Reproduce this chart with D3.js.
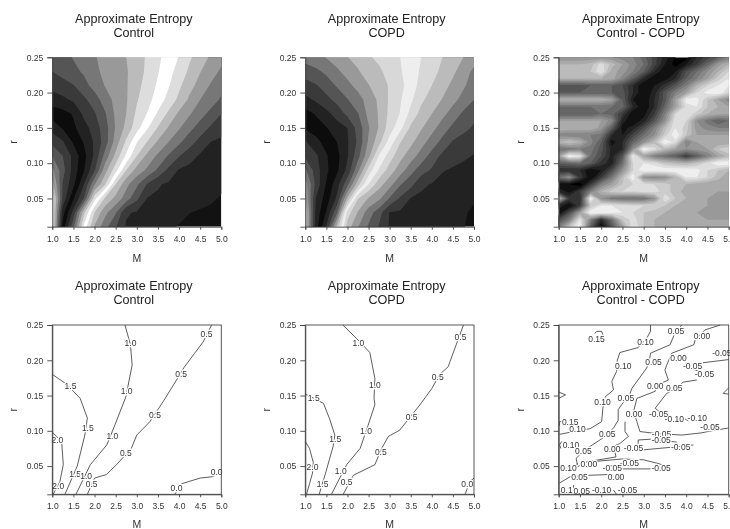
<!DOCTYPE html>
<html>
<head>
<meta charset="utf-8">
<script src="https://cdnjs.cloudflare.com/ajax/libs/d3/7.8.5/d3.min.js"></script>
<style>
  html, body { margin: 0; padding: 0; background: #fff; overflow: hidden; }
  svg { display: block; font-family: "Liberation Sans", Arial, sans-serif; filter: blur(0.5px); }
</style>
</head>
<body>
<svg id="chart" width="730" height="529"></svg>
<script>
// axis ticks
var mTicks = [1, 1.5, 2, 2.5, 3, 3.5, 4, 4.5, 5];
var rTicks = [0.05, 0.10, 0.15, 0.20, 0.25];

// surface grids
var mGrid = [1, 1.25, 1.5, 1.75, 2, 2.25, 2.5, 2.75, 3, 3.25, 3.5, 3.75, 4, 4.25, 4.5, 4.75, 5];
var rGridCoarse = [0.25, 0.23, 0.21, 0.19, 0.17, 0.15, 0.13, 0.11, 0.09, 0.07, 0.05, 0.03, 0.01];
var rGridFine = [0.25, 0.24, 0.23, 0.22, 0.21, 0.20, 0.19, 0.18, 0.17, 0.16, 0.15, 0.14, 0.13,
  0.12, 0.11, 0.10, 0.09, 0.08, 0.07, 0.06, 0.05, 0.04, 0.03, 0.02, 0.01];

var controlSurface = [
  [12.8, 12.35, 11.93, 11.5, 11.08, 10.7, 10.37, 10, 9.44, 8.86, 8.2, 7.58, 6.95, 6.15, 5.48, 4.85, 4.3],
  [13, 12.63, 12.27, 11.85, 11.24, 10.75, 10.45, 10.1, 9.47, 8.78, 8.07, 7.35, 6.6, 5.8, 5.05, 4.4, 3.85],
  [13.65, 13.4, 13.05, 12.35, 11.6, 10.95, 10.55, 10.1, 9.3, 8.6, 7.85, 7.1, 6.2, 5.35, 4.6, 3.9, 3.4],
  [14.5, 14.2, 13.85, 13.2, 12.5, 11.5, 10.7, 10.1, 9.1, 8.35, 7.55, 6.65, 5.75, 4.8, 4, 3.5, 2.85],
  [15.55, 15.35, 14.9, 13.75, 13.1, 12.1, 10.8, 10, 8.8, 7.95, 6.85, 5.8, 4.8, 4.1, 3.4, 2.7, 2],
  [16.6, 15.9, 15.2, 14.4, 13.55, 12.45, 10.9, 9.7, 8.4, 7.1, 5.9, 4.9, 4.1, 3.3, 2.55, 1.85, 1.3],
  [17.7, 17.1, 15.85, 14.9, 13.85, 12.5, 10.55, 8.8, 7.05, 5.95, 4.85, 4, 3.2, 2.4, 1.65, 1, 0.85],
  [19, 18, 16.7, 15.3, 13.8, 11.6, 9.7, 7.8, 6, 4.7, 3.8, 2.9, 2.05, 1.4, 0.85, 0.65, 0.5],
  [20.3, 18.35, 16.6, 15.05, 13.1, 10.4, 8.4, 6, 4.6, 3.8, 2.8, 1.75, 0.9, 0.7, 0.5, 0.35, 0.2],
  [21.4, 17.9, 16.3, 14, 11.1, 9.1, 6, 4.3, 3.2, 1.9, 1.1, 0.85, 0.7, 0.55, 0.5, 0.4, 0.25],
  [23, 17.7, 15.1, 12.9, 8.4, 5.8, 4.7, 3.5, 2.2, 0.95, 0.85, 0.75, 0.6, 0.45, 0.3, 0.15, -0.1],
  [23, 16.4, 13.6, 9.3, 5.95, 4.3, 3.1, 1.1, 0.9, 0.75, 0.55, 0.35, 0.2, 0.02, -0.1, -0.2, -0.4],
  [23, 15.6, 12.3, 7.75, 4.9, 3.35, 2.1, 0.9, 0.7, 0.5, 0.35, 0.15, -0.05, -0.3, -0.4, -0.5, -0.6]
];

var copdSurface = [
  [11.6, 11.4, 10.95, 10.5, 10.03, 9.6, 9.13, 8.75, 8.4, 8, 7.5, 7, 6.5, 6, 5.5, 5, 4.5],
  [12.5, 12.2, 11.8, 11.2, 10.6, 10.1, 9.5, 9.2, 8.6, 8.1, 7.5, 6.85, 6.3, 5.8, 5.2, 4.5, 3.75],
  [13.4, 13.1, 12.5, 11.9, 11.3, 10.65, 10.05, 9.5, 8.9, 8.3, 7.5, 6.65, 6, 5.4, 4.75, 4.15, 3.5],
  [14.3, 13.85, 13.3, 12.7, 12.05, 11.4, 10.6, 9.8, 8.85, 8.1, 7.2, 6.2, 5.55, 4.95, 4.3, 3.65, 3],
  [15.4, 14.9, 14.3, 13.6, 12.75, 12.05, 10.7, 9.9, 8.75, 7.95, 6.7, 5.65, 5, 4.3, 3.55, 2.8, 2.3],
  [15.85, 15.5, 15.05, 14.45, 14, 12.6, 11.1, 9.9, 8.5, 7.3, 5.8, 5.1, 4.35, 3.5, 2.75, 2.3, 1.85],
  [17.1, 16.35, 15.6, 15, 14.1, 12.8, 10.85, 9.3, 7.6, 6.05, 5.25, 4.4, 3.55, 2.7, 1.9, 1.55, 1.3],
  [17.8, 17.2, 16.1, 15.3, 14.1, 12.3, 10.3, 7.9, 6.5, 5.3, 4.5, 3.55, 2.6, 1.75, 1.35, 1.15, 0.95],
  [19.2, 17.5, 16.2, 15.2, 13.7, 11.25, 8.6, 6.85, 5.5, 4.5, 3.35, 2.5, 1.85, 1.05, 0.9, 0.75, 0.6],
  [20.5, 17.7, 15.9, 14.4, 12.3, 9.4, 7, 5.4, 4.4, 3.1, 2.35, 1.15, 0.95, 0.8, 0.7, 0.55, 0.4],
  [21, 17, 15.5, 13.8, 9.8, 6.05, 4.9, 4.2, 2.9, 1.85, 0.95, 0.85, 0.75, 0.65, 0.5, 0.3, 0.1],
  [22, 16.7, 14.9, 12.2, 6.5, 4.9, 3.5, 2.4, 0.95, 0.85, 0.75, 0.6, 0.45, 0.3, 0.2, 0.1, -0.15],
  [22, 16.5, 13.9, 9.6, 5.5, 4.05, 2.85, 1.9, 0.9, 0.8, 0.65, 0.55, 0.4, 0.3, 0.2, 0.05, -0.3]
];

// difference panel, brightness on a 0-15 scale
var diffSurface = [
  [9, 9, 9, 9, 9, 9, 8.5, 8, 6.5, 4.5, 2.5, 1, 0.5, 3, 4.5, 6, 8],
  [11, 11, 11, 11.5, 13.5, 11.5, 10, 8.5, 7, 4.5, 2, 0.5, 2, 4, 6.5, 9.5, 11],
  [11.5, 11.5, 11.5, 12, 14, 10.5, 9.5, 8, 6, 3, 1, 2, 5, 7, 9, 11, 13],
  [11, 11, 11, 11, 11, 10.5, 8.5, 6, 3, 1, 1.5, 3, 6, 8, 10, 12.5, 14],
  [5.5, 5.5, 5.5, 6, 6, 6, 5, 3, 1, 2, 3.5, 5.5, 8, 11, 13, 14, 14],
  [6, 6, 6, 6, 6, 6, 5.5, 3, 1, 2.5, 5.5, 8, 10, 13, 14.5, 15, 13],
  [11, 11, 11, 11, 11, 10, 6, 2, 1, 3, 5.5, 10, 14.5, 14.5, 12, 10, 8.5],
  [7, 7, 7, 7, 7, 7, 6.5, 3, 1, 3, 6.5, 10, 13.5, 14, 12, 11, 10],
  [6, 6, 6, 6, 7, 6.5, 4, 1, 1.5, 4, 8, 13, 14, 12.5, 11, 10.5, 10],
  [10, 10, 10, 10, 10, 8.5, 2.5, 1, 2.5, 5.5, 9, 14, 13, 9, 7.5, 6, 7],
  [11, 11, 11, 11, 9.5, 6, 1.5, 2.5, 5, 8, 11.5, 14, 12.5, 9.5, 8.5, 8, 8],
  [8.5, 8, 8, 8, 7.5, 3, 2, 4.5, 7, 9, 12.5, 15, 12, 10, 10, 10, 10],
  [11, 12, 11, 8.5, 6, 1.5, 3, 6.5, 9, 11.5, 15, 13.5, 8, 10, 10, 10, 10],
  [7, 7.5, 8, 7.5, 5.5, 2.5, 3, 9, 15, 13.5, 11.5, 10, 9, 9.5, 10, 12, 13],
  [10, 15, 14, 7, 5, 2.5, 5.5, 14.5, 10, 8, 7, 6, 4, 6, 8, 10, 11.5],
  [6, 6.5, 7, 6, 3.5, 2.5, 7, 13, 14, 13.5, 12, 11.5, 11, 12, 13.5, 15, 15],
  [3, 3, 3, 1, 2, 5, 9, 13, 15, 15, 15, 15, 15, 14.5, 13, 12, 11],
  [7, 9, 4, 1, 4, 7.5, 11.5, 15, 9, 8.5, 9, 11, 14, 14, 13, 11.5, 10],
  [1, 1, 0, 4, 8, 10, 12, 13, 13.5, 13, 12.5, 11.5, 11, 10.5, 10, 10, 10],
  [3, 1.5, 4, 8, 11, 12.5, 13, 13, 13.5, 13.5, 12.5, 11.5, 10.5, 10, 10, 10, 10],
  [12, 4, 3, 15, 9, 7.5, 7, 7, 7, 9, 14, 12, 11, 10.5, 10, 9.5, 9],
  [3, 1, 4, 12, 14, 14, 13.5, 13, 13, 13, 12, 11, 10.5, 10, 10, 9.5, 9],
  [1, 5, 10, 15, 15, 14.5, 14, 13, 12, 11.5, 11, 10.5, 10, 10, 9.5, 9.5, 9],
  [5, 8, 14, 8, 3, 7, 12, 13.5, 12, 11, 10.5, 10, 10, 10, 10, 10, 10],
  [8, 12, 15, 6, 1, 5.5, 10, 14, 12, 11, 10.5, 10, 10, 10, 10, 10, 10]
];

// grey per band, from the lowest band upward
var foldedLevels = d3.range(0, 24);
var controlGreys = ["#222", "#3a3a3a", "#555", "#777", "#999", "#bbb", "#ddd", "#fff", "#ddd", "#bbb", "#999",
  "#777", "#555", "#3a3a3a", "#222", "#0c0c0c", "#222", "#3a3a3a", "#555", "#777", "#999", "#bbb", "#ddd", "#fff"];
var copdGreys = ["#222", "#3a3a3a", "#555", "#777", "#999", "#bbb", "#d8d8d8", "#eee", "#d8d8d8", "#bbb", "#999",
  "#777", "#555", "#3a3a3a", "#222", "#0c0c0c", "#222", "#3a3a3a", "#555", "#777", "#999", "#bbb", "#ddd", "#fff"];
var foldedBase = "#121212";

var brightLevels = d3.range(1, 16);
var brightGreys = ["#111", "#222", "#333", "#444", "#555", "#666", "#777", "#888", "#999", "#aaa", "#bbb", "#ccc", "#ddd", "#eee", "#fff"];
var brightBase = "#000";

// traced contour lines, [M, r]
var controlLines = [
  [[1, 0.18], [1.34, 0.166], [1.66, 0.146], [1.83, 0.118], [1.77, 0.094], [1.59, 0.05], [1.3, 0.01]],
  [[2.72, 0.25], [2.85, 0.222], [2.89, 0.193], [2.74, 0.148], [2.48, 0.108], [2.29, 0.08], [1.9, 0.052], [1.56, 0.01]],
  [[4.77, 0.25], [4.57, 0.226], [4.37, 0.21], [4.12, 0.19], [3.94, 0.172], [3.63, 0.142], [3.31, 0.113], [3, 0.094], [2.87, 0.075], [2.52, 0.052], [2.28, 0.038], [2, 0.033], [1.83, 0.01]],
  [[3.9, 0.01], [4.06, 0.025], [4.5, 0.033], [4.8, 0.035], [5, 0.042]],
  [[1, 0.098], [1.22, 0.085], [1.26, 0.052], [1.18, 0.028], [1.02, 0.01]]
];
var controlLabels = [
  [1.43, 0.164, "1.5"], [1.84, 0.104, "1.5"], [1.54, 0.039, "1.5"],
  [2.85, 0.224, "1.0"], [2.76, 0.157, "1.0"], [2.42, 0.093, "1.0"], [1.8, 0.036, "1.0"],
  [4.65, 0.237, "0.5"], [4.05, 0.18, "0.5"], [3.43, 0.122, "0.5"], [2.74, 0.069, "0.5"], [1.93, 0.025, "0.5"],
  [4.89, 0.042, "0.0"], [3.94, 0.019, "0.0"],
  [1.12, 0.087, "2.0"], [1.14, 0.022, "2.0"]
];

var copdLines = [
  [[1, 0.085], [1.1, 0.075], [1.19, 0.055], [1.17, 0.04], [1.1, 0.025], [1.03, 0.01]],
  [[1, 0.152], [1.2, 0.146], [1.43, 0.139], [1.57, 0.118], [1.7, 0.094], [1.66, 0.078], [1.49, 0.042], [1.33, 0.01]],
  [[1.89, 0.25], [2.18, 0.233], [2.53, 0.211], [2.65, 0.174], [2.63, 0.146], [2.65, 0.137], [2.49, 0.108], [2.3, 0.075], [1.98, 0.052], [1.62, 0.01]],
  [[4.75, 0.25], [4.43, 0.198], [4.39, 0.191], [4.19, 0.18], [4, 0.16], [3.72, 0.137], [3.24, 0.101], [2.97, 0.092], [2.81, 0.075], [2.65, 0.052], [2.14, 0.037], [1.9, 0.01]],
  [[5, 0.033], [4.9, 0.028], [4.79, 0.01]]
];
var copdLabels = [
  [1.17, 0.049, "2.0"],
  [1.2, 0.146, "1.5"], [1.71, 0.088, "1.5"], [1.41, 0.024, "1.5"],
  [2.26, 0.224, "1.0"], [2.65, 0.165, "1.0"], [2.44, 0.1, "1.0"], [1.84, 0.043, "1.0"],
  [4.68, 0.233, "0.5"], [4.14, 0.176, "0.5"], [3.52, 0.12, "0.5"], [2.79, 0.07, "0.5"], [1.98, 0.027, "0.5"],
  [4.84, 0.025, "0.0"]
];

var diffLines = [
  [[3.16, 0.25], [3.16, 0.241], [3.07, 0.231], [2.87, 0.218], [2.44, 0.211], [2.38, 0.2], [2.36, 0.184], [2.25, 0.17], [2.29, 0.158], [2.09, 0.148], [2.04, 0.132], [2.01, 0.113], [1.74, 0.103], [1.44, 0.1], [1.02, 0.095]],
  [[3.89, 0.25], [3.71, 0.235], [3.62, 0.222], [3.16, 0.21], [3.13, 0.198], [3.07, 0.189], [2.72, 0.16], [2.68, 0.153], [2.48, 0.137], [2.4, 0.13], [2.4, 0.115], [2.29, 0.104], [2.13, 0.094], [1.97, 0.087], [1.74, 0.078], [1.58, 0.071], [1.41, 0.061], [1.44, 0.052]],
  [[4.8, 0.25], [4.44, 0.243], [4.21, 0.229], [4.18, 0.222], [3.66, 0.21], [3.54, 0.193], [3.5, 0.186], [3.58, 0.172], [3.27, 0.164], [3.27, 0.156], [2.84, 0.146], [2.76, 0.127], [2.84, 0.113], [2.91, 0.099], [3.31, 0.096], [3.9, 0.094], [4.35, 0.097], [4.6, 0.1], [5, 0.104]],
  [[2.56, 0.113], [2.56, 0.099], [2.64, 0.092], [2.44, 0.082], [2.29, 0.078], [2.35, 0.063], [1.66, 0.056], [1.44, 0.049]],
  [[5, 0.201], [4.33, 0.196], [4.15, 0.193]],
  [[4.09, 0.189], [4.4, 0.182]],
  [[4.25, 0.172], [3.93, 0.169], [3.78, 0.161], [3.54, 0.153], [3.27, 0.132], [3.42, 0.125], [3.54, 0.119], [3.66, 0.113]],
  [[3.97, 0.117], [4.05, 0.114]],
  [[4.17, 0.08], [3.89, 0.078], [2.99, 0.073]],
  [[2.87, 0.076], [2.87, 0.087], [3.15, 0.088], [3.78, 0.084]],
  [[1.74, 0.056], [2.48, 0.06], [2.99, 0.059], [3.38, 0.053], [3.58, 0.047]],
  [[2.13, 0.052], [2.52, 0.046], [3.23, 0.046]],
  [[1.02, 0.026], [1.27, 0.035], [1.74, 0.037], [2.17, 0.038]],
  [[2.29, 0.016], [2.36, 0.01]],
  [[2.72, 0.014], [2.77, 0.01]],
  [[1.85, 0.238], [1.89, 0.241], [2.01, 0.241], [2.04, 0.236]],
  [[1, 0.155], [1.16, 0.151], [1, 0.146]],
  [[5, 0.161], [4.87, 0.153], [5, 0.152]],
  [[1.07, 0.113], [1.02, 0.113], [1.02, 0.107]],
  [[1.07, 0.085], [1.02, 0.08], [1.05, 0.075]],
  [[1.44, 0.054], [1.38, 0.047]],
  [[1.35, 0.023], [1.35, 0.015]]
];
var diffLabels = [
  [1.89, 0.23, "0.15"], [3.04, 0.226, "0.10"], [3.76, 0.242, "0.05"], [4.37, 0.234, "0.00"], [4.84, 0.211, "-0.05"],
  [2.52, 0.192, "0.10"], [3.23, 0.198, "0.05"], [3.82, 0.203, "0.00"], [4.15, 0.192, "-0.05"], [4.43, 0.181, "-0.05"],
  [3.27, 0.164, "0.00"], [3.72, 0.161, "0.05"], [2.03, 0.141, "0.10"], [2.58, 0.147, "0.05"], [1.27, 0.113, "0.15"],
  [1.44, 0.102, "0.10"], [2.77, 0.124, "0.00"], [3.35, 0.124, "-0.05"], [3.72, 0.117, "-0.10"], [4.26, 0.118, "-0.10"],
  [4.56, 0.105, "-0.05"], [2.14, 0.096, "0.05"], [3.42, 0.095, "-0.05"], [3.41, 0.087, "-0.05"], [1.29, 0.08, "0.10"],
  [1.58, 0.071, "0.05"], [2.26, 0.074, "0.00"], [2.76, 0.076, "-0.05"], [3.87, 0.077, "-0.05"], [1.23, 0.047, "0.10"],
  [1.71, 0.053, "0.00"], [2.66, 0.055, "-0.05"], [2.26, 0.047, "-0.05"], [3.41, 0.047, "-0.05"], [1.49, 0.034, "0.05"],
  [2.35, 0.034, "0.00"], [1.19, 0.016, "0.1"], [1.54, 0.014, "0.05"], [2.01, 0.016, "-0.10"], [2.62, 0.016, "-0.05"]
];

var titleTop = "Approximate Entropy";
var titleSubs = ["Control", "COPD", "Control - COPD"];

var svg = d3.select("#chart");

// plot boxes in page pixels
var plotLefts = [52.3, 305.3, 558.7];
var plotWidths = [169, 168.7, 170];
var shadedTop = 57.3, shadedBottom = 226.7;
var lineTop = 325, lineBottom = 494.3;

function drawAxes(g, x, y, bottom, left) {
  g.append("g")
    .attr("transform", "translate(0," + bottom + ")")
    .call(d3.axisBottom(x).tickValues(mTicks).tickSize(3).tickPadding(6).tickFormat(d3.format(".1f")));
  g.append("g")
    .attr("transform", "translate(" + left + ",0)")
    .call(d3.axisLeft(y).tickValues(rTicks).tickSize(5).tickPadding(4).tickFormat(d3.format(".2f")));
  g.selectAll(".tick text").attr("font-size", 8.5).attr("fill", "#333").attr("font-family", "Liberation Sans");
  g.selectAll(".tick line, .domain").attr("stroke", "#444").attr("stroke-width", 0.9);
}

function drawTitles(g, i, cx, base, bottom, left, top, labelGap) {
  g.append("text").attr("x", cx - 3).attr("y", base).attr("text-anchor", "middle")
    .attr("font-size", 12.6).attr("fill", "#222").text(titleTop);
  g.append("text").attr("x", cx - 3).attr("y", base + 14).attr("text-anchor", "middle")
    .attr("font-size", 12.6).attr("fill", "#222").text(titleSubs[i]);
  g.append("text").attr("x", cx).attr("y", bottom + labelGap).attr("text-anchor", "middle")
    .attr("font-size", 10.5).attr("fill", "#333").text("M");
  g.append("text").attr("transform", "translate(" + (left - 35) + "," + ((top + bottom) / 2) + ") rotate(-90)")
    .attr("text-anchor", "middle").attr("font-size", 10.5).attr("fill", "#333").text("r");
}

function drawShaded(i, surface, rGrid, levels, greys, base) {
  var left = plotLefts[i], right = left + plotWidths[i];
  var x = d3.scaleLinear().domain([1, 5]).range([left, right]);
  var y = d3.scaleLinear().domain([0.01, 0.25]).range([shadedBottom, shadedTop]);
  var g = svg.append("g");
  var colIndex = d3.scaleLinear().domain([0, mGrid.length - 1]).range([mGrid[0], mGrid[mGrid.length - 1]]);
  var rowIndex = d3.scaleLinear().domain([0, rGrid.length - 1]).range([rGrid[0], rGrid[rGrid.length - 1]]);

  var clipId = "clip" + i;
  g.append("clipPath").attr("id", clipId).append("rect")
    .attr("x", left).attr("y", shadedTop).attr("width", right - left).attr("height", shadedBottom - shadedTop);

  var path = d3.geoPath(d3.geoTransform({
    point: function (px, py) {
      this.stream.point(x(colIndex(px - 0.5)), y(rowIndex(py - 0.5)));
    }
  }));

  var contours = d3.contours()
    .size([mGrid.length, rGrid.length])
    .thresholds(levels)(surface.flat());

  var bands = g.append("g").attr("clip-path", "url(#" + clipId + ")");
  bands.append("rect").attr("x", left).attr("y", shadedTop)
    .attr("width", right - left).attr("height", shadedBottom - shadedTop).attr("fill", base);
  bands.selectAll("path")
    .data(contours)
    .enter()
    .append("path")
    .attr("d", path)
    .attr("fill", function (d, k) { return greys[k]; });

  drawAxes(g, x, y, shadedBottom, left);
  drawTitles(g, i, (left + right) / 2, 22.7, shadedBottom, left, shadedTop, 35);
}

function drawLines(i, lines, labels) {
  var left = plotLefts[i], right = left + plotWidths[i];
  var x = d3.scaleLinear().domain([1, 5]).range([left, right]);
  var y = d3.scaleLinear().domain([0.01, 0.25]).range([lineBottom, lineTop]);
  var g = svg.append("g");
  var line = d3.line().x(function (d) { return x(d[0]); }).y(function (d) { return y(d[1]); });

  g.selectAll("path.contour")
    .data(lines)
    .enter()
    .append("path")
    .attr("class", "contour")
    .attr("d", line)
    .attr("fill", "none")
    .attr("stroke", "#333")
    .attr("stroke-width", 0.8);

  g.selectAll("text.contour-label")
    .data(labels)
    .enter()
    .append("text")
    .attr("class", "contour-label")
    .attr("x", function (d) { return x(d[0]); })
    .attr("y", function (d) { return y(d[1]) + 3; })
    .attr("text-anchor", "middle")
    .attr("font-size", 8.5)
    .attr("fill", "#333")
    .attr("stroke", "#fff")
    .attr("stroke-width", 2.5)
    .attr("paint-order", "stroke")
    .text(function (d) { return d[2]; });

  g.append("rect").attr("x", left).attr("y", lineTop)
    .attr("width", right - left).attr("height", lineBottom - lineTop)
    .attr("fill", "none").attr("stroke", "#444").attr("stroke-width", 0.9);

  drawAxes(g, x, y, lineBottom, left);
  drawTitles(g, i, (left + right) / 2, 290, lineBottom, left, lineTop, 34);
}

drawShaded(0, controlSurface, rGridCoarse, foldedLevels, controlGreys, foldedBase);
drawShaded(1, copdSurface, rGridCoarse, foldedLevels, copdGreys, foldedBase);
drawShaded(2, diffSurface, rGridFine, brightLevels, brightGreys, brightBase);

drawLines(0, controlLines, controlLabels);
drawLines(1, copdLines, copdLabels);
drawLines(2, diffLines, diffLabels);
</script>
</body>
</html>
